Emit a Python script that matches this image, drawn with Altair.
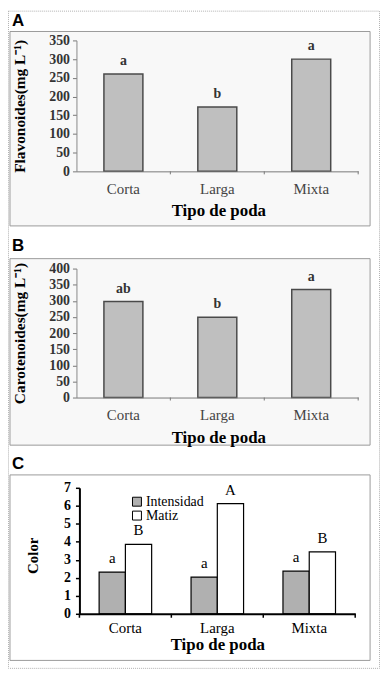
import altair as alt
import pandas as pd

cats = ["Corta", "Larga", "Mixta"]
flav = [260, 172, 300]
flav_letters = ["a", "b", "a"]
carot = [298, 249, 335]
carot_letters = ["ab", "b", "a"]
series = ["Intensidad", "Matiz"]
intens = [2.32, 2.04, 2.37]
matiz = [3.86, 6.12, 3.44]
intens_letters = ["a", "a", "a"]
matiz_letters = ["B", "A", "B"]

SERIF = "Liberation Serif"
SANS = "Liberation Sans"
W, H = 375, 664
one = pd.DataFrame({"k": [0]})


def rect(x0, x1, y0, y1, fill, stroke):
    return alt.Chart(one).mark_rect(fill=fill, stroke=stroke, strokeWidth=1).encode(
        x=alt.value(x0), x2=alt.value(x1), y=alt.value(y0), y2=alt.value(y1))


def letter(txt, x, y):
    return alt.Chart(one).mark_text(text=txt, font=SANS, fontSize=17, fontWeight="bold",
                                    align="left", baseline="middle", color="black").encode(
        x=alt.value(x), y=alt.value(y))


def simple_panel(values, letters, ytitle, ymax, xr, yr, lab_pad, title_y):
    df = pd.DataFrame({"cat": cats, "val": values, "lab": letters})
    xax = alt.Axis(title="Tipo de poda", orient="bottom", offset=yr[0] - H, labelAngle=0, ticks=False,
                   labelFont=SERIF, labelFontSize=15, labelColor="#444", labelPadding=lab_pad,
                   domainColor="#777", domainWidth=1,
                   titleFont=SERIF, titleFontSize=17, titleFontWeight="bold", titleColor="black",
                   titleBaseline="middle", titleAlign="center", titleX=(xr[0] + xr[1]) / 2 + 1, titleY=title_y,
                   zindex=1)
    yax = alt.Axis(title=ytitle, orient="left", offset=-xr[0], values=list(range(0, ymax + 1, 50)),
                   labelOverlap=False, grid=False, tickSize=4,
                   tickColor="#777", domainColor="#888", labelFont=SERIF, labelFontSize=14,
                   labelFontWeight="bold", labelColor="#333", labelPadding=3,
                   titleFont=SERIF, titleFontSize=15.5, titleFontWeight="bold", titleColor="black",
                   titleAngle=270, titleAlign="center", titleBaseline="middle",
                   titleX=-57, titleY=(yr[0] + yr[1]) / 2, zindex=1)
    x = alt.X("cat:N", sort=cats, scale=alt.Scale(range=list(xr), paddingInner=0, paddingOuter=0), axis=xax)
    y = alt.Y("val:Q", scale=alt.Scale(domain=[0, ymax], range=list(yr), nice=False), axis=yax)
    bars = alt.Chart(df).mark_bar(width=alt.RelativeBandSize(0.415), fill="#bfbfbf", stroke="#4a4a4a",
                                  strokeWidth=1.5).encode(x=x, y=y)
    text = alt.Chart(df).mark_text(baseline="bottom", dy=-6, font=SERIF, fontSize=14, fontWeight="bold",
                                   color="#333").encode(x=alt.X("cat:N", sort=cats), y="val:Q", text="lab:N")
    ticks = alt.Chart(df).mark_rule(color="#777", strokeWidth=1).encode(
        x=alt.X("cat:N", sort=cats, bandPosition=1), y=alt.value(yr[0]), y2=alt.value(yr[0] + 3))
    return alt.layer(bars, text, ticks)


panelA = simple_panel(flav, flav_letters, "Flavonoides(mg L⁻¹)", 350, (69, 353), (162, 30), 10, 40)
panelB = simple_panel(carot, carot_letters, "Carotenoides(mg L⁻¹)", 400, (69, 353), (390, 260), 10, 40)

# Panel C
dfC = pd.DataFrame({
    "cat": cats * 2,
    "serie": [series[0]] * 3 + [series[1]] * 3,
    "val": intens + matiz,
    "lab": intens_letters + matiz_letters,
})
xrC, yrC = (72, 350), (608, 481)
xC = alt.X("cat:N", sort=cats, scale=alt.Scale(range=list(xrC), paddingInner=0, paddingOuter=0),
           axis=alt.Axis(title="Tipo de poda", orient="bottom", offset=yrC[0] - H, labelAngle=0, ticks=False,
                         labelFont=SERIF, labelFontSize=15, labelColor="black", labelPadding=7,
                         domainColor="black", domainWidth=2,
                         titleFont=SERIF, titleFontSize=17, titleFontWeight="bold", titleColor="black",
                         titleBaseline="middle", titleAlign="center", titleX=211, titleY=31, zindex=1))
yC = alt.Y("val:Q", scale=alt.Scale(domain=[0, 7], range=list(yrC), nice=False),
           axis=alt.Axis(title="Color", orient="left", offset=-xrC[0], values=list(range(0, 8)), format="d",
                         labelOverlap=False, grid=False, tickSize=4, tickColor="black",
                         tickWidth=1.5, domainColor="black", domainWidth=2, labelFont=SERIF, labelFontSize=14,
                         labelFontWeight="bold", labelColor="black", labelPadding=5,
                         titleFont=SERIF, titleFontSize=15, titleFontWeight="bold", titleColor="black",
                         titleAngle=270, titleAlign="center", titleBaseline="middle",
                         titleX=-47, titleY=549, zindex=1))
xoffC = alt.XOffset("serie:N", sort=series, scale=alt.Scale(paddingInner=0, paddingOuter=0.75))
colC = alt.Color("serie:N", sort=series, scale=alt.Scale(domain=series, range=["#b0b0b0", "#ffffff"]),
                 legend=alt.Legend(title=None, orient="none", legendX=123, legendY=488, symbolType="square",
                                   symbolSize=81, symbolStrokeColor="black", symbolStrokeWidth=1,
                                   labelFont=SERIF, labelFontSize=14, labelColor="black", labelOffset=2,
                                   rowPadding=0))
barsC = alt.Chart(dfC).mark_bar(stroke="black", strokeWidth=1.2).encode(x=xC, xOffset=xoffC, y=yC, color=colC)
textC = alt.Chart(dfC).mark_text(baseline="bottom", dy=-6, font=SERIF, fontSize=15, color="black").encode(
    x=alt.X("cat:N", sort=cats), xOffset=alt.XOffset("serie:N", sort=series), y="val:Q", text="lab:N")
ticksC = alt.Chart(pd.DataFrame({"cat": cats})).mark_rule(color="black", strokeWidth=1.5).encode(
    x=alt.X("cat:N", sort=cats, bandPosition=1), y=alt.value(yrC[0]), y2=alt.value(yrC[0] + 4))
ticksC0 = alt.Chart(pd.DataFrame({"cat": cats[:1]})).mark_rule(color="black", strokeWidth=1.5).encode(
    x=alt.X("cat:N", sort=cats, bandPosition=0), y=alt.value(yrC[0]), y2=alt.value(yrC[0] + 4))
panelC = alt.layer(barsC, textC, ticksC, ticksC0)

# decorations: outer dotted frame, inner boxes, panel letters
frame = alt.Chart(one).mark_rect(fill="white", stroke="#b0b0b0", strokeWidth=1, strokeDash=[1, 1]).encode(
    x=alt.value(0.5), x2=alt.value(W - 0.5), y=alt.value(0.5), y2=alt.value(H - 1))
boxA = rect(2, 365, 21, 217, "#f8f8f8", "#9a9a9a")
boxB = rect(2, 365, 250, 438, "#f8f8f8", "#9a9a9a")
boxC = rect(2, 365, 468, 655, "#ffffff", "#9a9a9a")

chart = alt.layer(
    frame, boxA, boxB, boxC,
    letter("A", 4, 10), letter("B", 4, 237), letter("C", 4, 457),
    panelA, panelB, panelC,
).resolve_scale(x="independent", y="independent", color="independent").properties(
    width=W, height=H, autosize=alt.AutoSizeParams(type="none"), padding=0, background="white"
).configure_view(stroke="transparent")

chart.save("out.html", embed_options={"renderer": "svg", "actions": False})
